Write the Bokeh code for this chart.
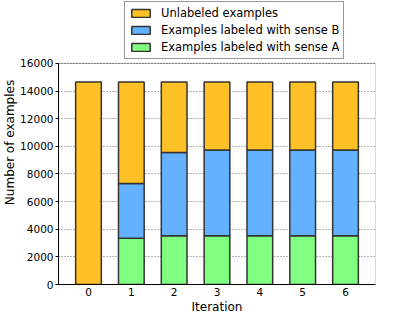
from bokeh.plotting import figure
from bokeh.models import Range1d, Legend, LegendItem, FixedTicker, ColumnDataSource, BoxAnnotation
from bokeh.embed import file_html
from bokeh.resources import INLINE

iterations = [0, 1, 2, 3, 4, 5, 6]
sense_a = [0, 3350, 3520, 3520, 3520, 3520, 3520]
sense_b = [0, 3950, 6030, 6210, 6210, 6210, 6210]
unlabeled = [14650, 7350, 5100, 4920, 4920, 4920, 4920]
y_ticks = [0, 2000, 4000, 6000, 8000, 10000, 12000, 14000, 16000]
Y_MAX = 16000
X_LO, X_HI = -0.7, 6.7

FONT = "DejaVu Sans"

src = ColumnDataSource(dict(x=iterations, a=sense_a, b=sense_b, u=unlabeled))

# the frame extends above the axes box to host the legend
p = figure(width=383, height=316, output_backend="svg", toolbar_location=None,
           x_range=Range1d(X_LO, X_HI), y_range=Range1d(0, 20550),
           min_border_left=53, min_border_right=8, min_border_top=0, min_border_bottom=32)

rs = p.vbar_stack(["a", "b", "u"], x="x", width=0.6, source=src,
                  fill_color=["#80FF80", "#63B1FF", "#FFC125"],
                  line_color="#333333", line_width=1.5)

p.xgrid.visible = False
p.ygrid.grid_line_color = "#444444"
p.ygrid.grid_line_dash = "1 2"
p.ygrid.grid_line_width = 0.8
p.outline_line_color = None

box = BoxAnnotation(left=X_LO, right=X_HI, bottom=0, top=Y_MAX,
                    fill_alpha=0, line_color="black", line_width=1)
p.add_layout(box)

p.xaxis.ticker = FixedTicker(ticks=iterations)
p.yaxis.ticker = FixedTicker(ticks=y_ticks)
p.yaxis.bounds = (0, Y_MAX)
for ax in (p.xaxis, p.yaxis):
    ax.major_label_text_font = FONT
    ax.major_label_text_font_size = "10.5px"
    ax.major_label_text_color = "black"
    ax.axis_label_text_font = FONT
    ax.axis_label_text_font_size = "12px"
    ax.axis_label_text_font_style = "normal"
    ax.axis_label_text_color = "black"
    ax.axis_line_color = "black"
    ax.minor_tick_line_color = None
    ax.major_tick_in = 0
p.xaxis.major_tick_out = 0
p.yaxis.major_tick_out = 3
p.yaxis.major_label_standoff = 2
p.xaxis.major_label_standoff = 3
p.xaxis.axis_label_standoff = 1
p.yaxis.axis_label_standoff = 0
p.xaxis.axis_label = "Iteration"
p.yaxis.axis_label = "Number of examples"

legend = Legend(items=[
    LegendItem(label="Unlabeled examples", renderers=[rs[2]]),
    LegendItem(label="Examples labeled with sense B", renderers=[rs[1]]),
    LegendItem(label="Examples labeled with sense A", renderers=[rs[0]]),
], location=(66, 225), orientation="vertical")
legend.label_text_font = FONT
legend.label_text_font_size = "11.5px"
legend.label_text_color = "black"
legend.glyph_width = 23
legend.glyph_height = 10
legend.label_height = 12
legend.spacing = 3
legend.padding = 4
legend.margin = 0
legend.label_standoff = 9
legend.border_line_color = "#333333"
legend.border_line_width = 1
legend.background_fill_alpha = 1
p.add_layout(legend, "center")

open("out.html", "w").write(file_html(p, INLINE))
